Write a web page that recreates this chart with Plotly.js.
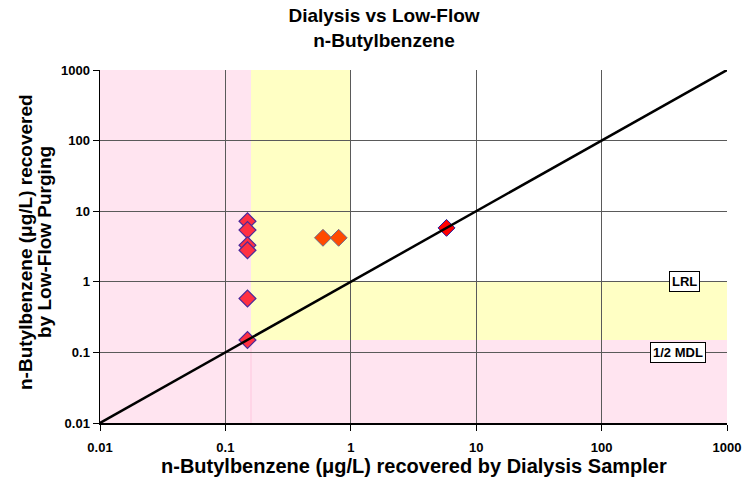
<!DOCTYPE html>
<html>
<head>
<meta charset="utf-8">
<script src="https://cdn.plot.ly/plotly-3.0.1.min.js"></script>
<style>html,body{margin:0;padding:0;background:#fff;}#chart{width:743px;height:488px;}</style>
</head>
<body>
<div id="chart"></div>
<script>
// ---- data ----
const tickVals = [0.01, 0.1, 1, 10, 100, 1000];
const tickText = ['0.01', '0.1', '1', '10', '100', '1000'];
const axisRange = [0.01, 1000];

// dialysis vs low-flow pairs (µg/L)
const lowDialysisX = [0.15, 0.15, 0.15, 0.15, 0.15, 0.15];
const lowDialysisY = [7.2, 5.4, 3.3, 2.8, 0.58, 0.15];
const midDialysisX = [0.6, 0.8];
const midDialysisY = [4.2, 4.2];
const highDialysisX = [5.8];
const highDialysisY = [5.8];

// reference values
const oneToOneLine = [0.01, 1000];
const halfMdlX = 0.16;   // dialysis 1/2 MDL
const halfMdlY = 0.15;   // low-flow 1/2 MDL
const lrl = 1;           // laboratory reporting level
const labelTexts = ['LRL', '1/2 MDL'];
const labelX = [462, 406];
const labelY = [1, 0.1];

const L = Math.log10;
const boldFont = {family: 'Liberation Sans, Arial, sans-serif', weight: 'bold', color: '#000'};

const traces = [
  {x: lowDialysisX, y: lowDialysisY, type: 'scatter', mode: 'markers',
   marker: {symbol: 'diamond', size: 13, color: '#FF3042', line: {color: '#4B2A9A', width: 1.2}}},
  {x: midDialysisX, y: midDialysisY, type: 'scatter', mode: 'markers',
   marker: {symbol: 'diamond', size: 13, color: '#FF4A00', line: {color: '#6A6A8A', width: 1}}},
  {x: highDialysisX, y: highDialysisY, type: 'scatter', mode: 'markers',
   marker: {symbol: 'diamond', size: 13, color: '#FF0000', line: {color: '#1A1AA0', width: 1}}},
  {x: oneToOneLine, y: oneToOneLine, type: 'scatter', mode: 'lines',
   line: {color: '#000', width: 2.5}}
];

const shapes = [
  {type: 'rect', xref: 'x', yref: 'y', layer: 'below', line: {width: 0}, fillcolor: '#FFE4F0',
   x0: axisRange[0], x1: axisRange[1], y0: axisRange[0], y1: axisRange[1]},
  {type: 'rect', xref: 'x', yref: 'y', layer: 'below', line: {width: 0}, fillcolor: '#FFFFC4',
   x0: halfMdlX, x1: axisRange[1], y0: halfMdlY, y1: axisRange[1]},
  {type: 'rect', xref: 'x', yref: 'y', layer: 'below', line: {width: 0}, fillcolor: '#FFFFFF',
   x0: lrl, x1: axisRange[1], y0: lrl, y1: axisRange[1]},
  {type: 'line', xref: 'x', yref: 'y', layer: 'below', line: {width: 1, color: '#FFC6DE'},
   x0: halfMdlX, x1: halfMdlX, y0: axisRange[0], y1: halfMdlY}
];

const annotations = [
  {xref: 'x', yref: 'y', x: L(labelX[0]), y: L(labelY[0]), text: labelTexts[0], showarrow: false,
   bgcolor: '#fff', bordercolor: '#000', borderwidth: 1, borderpad: 2,
   font: Object.assign({size: 13}, boldFont)},
  {xref: 'x', yref: 'y', x: L(labelX[1]), y: L(labelY[1]), text: labelTexts[1], showarrow: false,
   bgcolor: '#fff', bordercolor: '#000', borderwidth: 1, borderpad: 2,
   font: Object.assign({size: 13}, boldFont)},
  {xref: 'paper', yref: 'paper', x: 0.5, y: (423 - 466) / 353, xanchor: 'center', yanchor: 'middle',
   text: 'n-Butylbenzene (μg/L) recovered by Dialysis Sampler', showarrow: false,
   font: Object.assign({size: 20}, boldFont)},
  {xref: 'paper', yref: 'paper', x: (25 - 100) / 627, y: (423 - 242) / 353, xanchor: 'center', yanchor: 'middle',
   textangle: -90, text: 'n-Butylbenzene (μg/L) recovered', showarrow: false,
   font: Object.assign({size: 19}, boldFont)},
  {xref: 'paper', yref: 'paper', x: (44 - 100) / 627, y: (423 - 242) / 353, xanchor: 'center', yanchor: 'middle',
   textangle: -90, text: 'by Low-Flow Purging', showarrow: false,
   font: Object.assign({size: 19}, boldFont)}
];

const axisCommon = {
  type: 'log', tickmode: 'array', tickvals: tickVals, ticktext: tickText,
  showgrid: true, gridcolor: '#5a5a5a', gridwidth: 1,
  showline: true, linecolor: '#000', linewidth: 1.5,
  ticks: 'outside', ticklen: 6, tickcolor: '#000', tickwidth: 1,
  tickfont: Object.assign({size: 13}, boldFont), zeroline: false, automargin: false
};

const layout = {
  width: 743, height: 488,
  margin: {l: 100, r: 16, t: 70, b: 65},
  paper_bgcolor: '#fff', plot_bgcolor: '#fff',
  showlegend: false,
  title: {text: 'Dialysis vs Low-Flow<br>n-Butylbenzene', font: Object.assign({size: 19}, boldFont),
          xref: 'container', x: 384 / 743, xanchor: 'center', yref: 'container', y: 1 - 22 / 488, yanchor: 'top'},
  xaxis: Object.assign({}, axisCommon, {range: [L(axisRange[0]), L(axisRange[1])], ticklabelstandoff: 6}),
  yaxis: Object.assign({}, axisCommon, {range: [L(axisRange[0]), L(axisRange[1])]}),
  shapes: shapes,
  annotations: annotations
};

Plotly.newPlot('chart', traces, layout, {displayModeBar: false, staticPlot: true});
</script>
</body>
</html>
